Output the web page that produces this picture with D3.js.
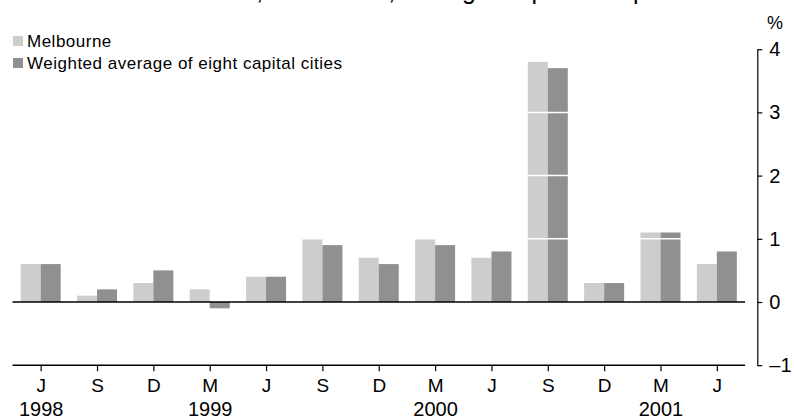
<!DOCTYPE html>
<html><head><meta charset="utf-8">
<script src="https://cdn.jsdelivr.net/npm/d3@7"></script>
<style>
html,body{margin:0;padding:0;background:#fff;}
svg{display:block;font-family:"Liberation Sans",Arial,sans-serif;}
</style></head>
<body><svg id="c" width="794" height="416"></svg>
<script>
const titleText = "Consumer Price Index, Melbourne, Change on previous period";
const quarters = ["J","S","D","M","J","S","D","M","J","S","D","M","J"];
const years = ["1998","","","1999","","","","2000","","","","2001",""];
const seriesNames = ["Melbourne","Weighted average of eight capital cities"];
const melbourne = [0.6,0.1,0.3,0.2,0.4,1.0,0.7,1.0,0.7,3.8,0.3,1.1,0.6];
const weighted  = [0.6,0.2,0.5,-0.1,0.4,0.9,0.6,0.9,0.8,3.7,0.3,1.1,0.8];
const yTicks = [-1,0,1,2,3,4];
const colors = ["#cdcdcb","#8f9092"];

const svg = d3.select("#c");
const idx = d3.range(quarters.length);
const x0 = d3.scaleBand().domain(idx).range([12.5,745]).paddingInner(0.29).paddingOuter(0.145);
const x1 = d3.scaleBand().domain([0,1]).range([0,x0.bandwidth()]);
const y = d3.scaleLinear().domain([-1,4]).range([365.2,49.2]);

// title (clipped at top)
svg.append("text").attr("x",9).attr("y",-1).attr("font-size",25).attr("fill","#000").text(titleText);

// bars
const series = [melbourne, weighted];
series.forEach((vals,s)=>{
  svg.append("g").selectAll("rect").data(vals).join("rect")
    .attr("x",(d,i)=>x0(i)+x1(s))
    .attr("width",x1.bandwidth())
    .attr("y",d=>y(Math.max(0,d)))
    .attr("height",d=>Math.abs(y(d)-y(0)))
    .attr("fill",colors[s]);
});

// white gridlines over bars
svg.append("g").selectAll("line").data(yTicks.filter(t=>t>0)).join("line")
  .attr("x1",12.5).attr("x2",745).attr("y1",d=>y(d)).attr("y2",d=>y(d))
  .attr("stroke","#fff").attr("stroke-width",1.5);

// zero line
svg.append("line").attr("x1",12.5).attr("x2",745).attr("y1",y(0)).attr("y2",y(0))
  .attr("stroke","#000").attr("stroke-width",1.6);

// bottom axis
const xAxis = d3.axisBottom(d3.scalePoint().domain(idx).range([x0(0)+x0.bandwidth()/2, x0(12)+x0.bandwidth()/2]))
  .tickSize(6).tickSizeOuter(0).tickFormat(i=>quarters[i]);
const gx = svg.append("g").attr("transform",`translate(0,${y(-1)})`).call(xAxis);
gx.select(".domain").remove();
gx.append("line").attr("x1",12.5).attr("x2",745).attr("stroke","#000").attr("stroke-width",1.5);
gx.selectAll(".tick line").attr("stroke","#000").attr("stroke-width",1.2);
gx.selectAll(".tick text").attr("font-size",19).attr("font-family","Liberation Sans, Arial, sans-serif").attr("fill","#000").attr("dy",null).attr("y",27);
gx.selectAll(".tick").append("text").attr("y",50.5).attr("text-anchor","middle")
  .attr("font-size",20).attr("fill","#000").text(i=>years[i]);

// right axis
const yAxis = d3.axisRight(y).tickValues(yTicks).tickSize(5).tickSizeOuter(0).tickPadding(7)
  .tickFormat(d=>d<0?"\u2013"+Math.abs(d):d);
const gy = svg.append("g").attr("transform","translate(757.3,0)").call(yAxis);
gy.select(".domain").attr("stroke","#000").attr("stroke-width",1.2);
gy.selectAll(".tick line").attr("stroke","#000").attr("stroke-width",1.2);
gy.selectAll(".tick text").attr("font-size",20).attr("font-family","Liberation Sans, Arial, sans-serif").attr("fill","#000");
svg.append("text").attr("x",767).attr("y",29).attr("font-size",18).attr("fill","#000").text("%");

// legend
const lg = svg.append("g");
seriesNames.forEach((n,i)=>{
  lg.append("rect").attr("x",13).attr("y",36+i*22).attr("width",10).attr("height",10).attr("fill",colors[i]);
  lg.append("text").attr("x",27).attr("y",46.5+i*22).attr("font-size",17).attr("letter-spacing",0.5).attr("fill","#000").text(n);
});
</script></body></html>
